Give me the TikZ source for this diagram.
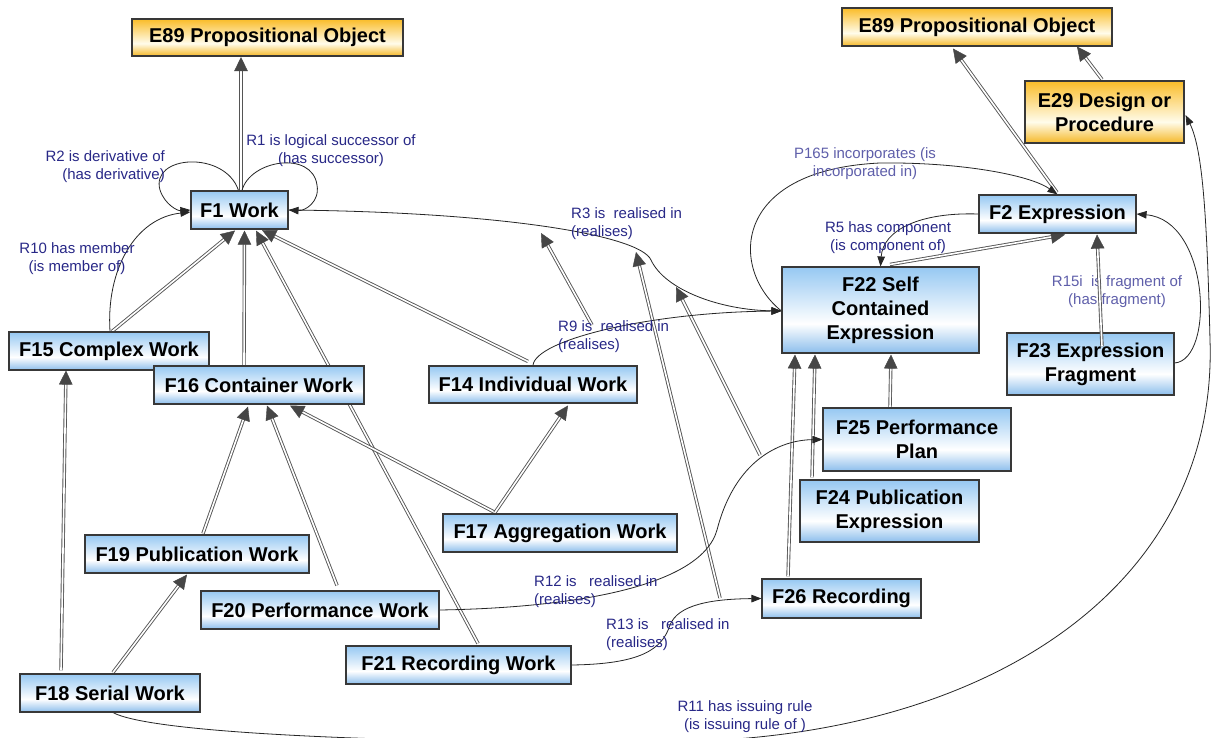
\documentclass[tikz,border=0pt]{standalone}
\usepackage{fontspec}
\setmainfont{Liberation Sans}
\usetikzlibrary{arrows.meta,calc,decorations.markings}
\definecolor{btop}{RGB}{150,200,242}
\definecolor{bbot}{RGB}{140,190,236}
\definecolor{ytop}{RGB}{250,188,40}
\definecolor{ybot}{RGB}{245,184,40}
\definecolor{ymid}{RGB}{255,252,235}
\definecolor{labc}{RGB}{40,40,135}
\definecolor{labc2}{RGB}{95,95,170}
\definecolor{isagray}{RGB}{85,85,85}
\definecolor{isatip}{RGB}{70,70,70}
\pgfdeclareverticalshading{bshade}{100bp}{color(0bp)=(bbot); color(25bp)=(bbot); color(42bp)=(white); color(75bp)=(btop); color(100bp)=(btop)}
\pgfdeclareverticalshading{yshade}{100bp}{color(0bp)=(ybot); color(25bp)=(ybot); color(42bp)=(ymid); color(75bp)=(ytop); color(100bp)=(ytop)}
\pgfdeclarelayer{bg}
\pgfsetlayers{bg,main}
\newcommand\boxfont{\bfseries\fontsize{20}{24}\selectfont}
\newcommand\labfont{\fontsize{15}{18}\selectfont}
\tikzset{
  box/.style={draw=black!78, line width=1.1pt, shading=bshade, font=\boxfont, align=center, inner sep=0pt, text=black},
  ybox/.style={box, shading=yshade},
  conn/.style={draw=black!85, line width=0.8pt, -{Triangle[length=10pt,width=7.5pt]}},
  isa/.style={postaction={draw=isagray, line width=0.9pt, double=white, double distance=1.6pt, shorten >=9pt},
              postaction={decorate, decoration={markings, mark=at position 1 with {\arrow{Triangle[length=14pt,width=13.5pt,color=isatip]}}}}},
  lab/.style={font=\labfont, text=labc, align=center, inner sep=0pt},
  labl/.style={lab, align=left, anchor=west}
}
\begin{document}
\begin{tikzpicture}[x=1pt,y=-1pt]
\useasboundingbox (0,0) rectangle (1213,737);
\clip (0,0) rectangle (1213,737);
\begin{pgfonlayer}{bg}
\fill[white] (0,0) rectangle (1213,737);
\end{pgfonlayer}

% nodes
\node[ybox, minimum width=271pt, minimum height=37pt] (E89L) at (267.5,37.5) {E89 Propositional Object};
\node[box, minimum width=97pt, minimum height=38pt] (F1) at (239.5,210) {F1 Work};
\node[box, minimum width=200pt, minimum height=38pt] (F15) at (109,351) {F15 Complex Work};
\node[box, minimum width=210pt, minimum height=38pt] (F16) at (259,385) {F16 Container Work};
\node[box, minimum width=208pt, minimum height=37pt] (F14) at (533,384.5) {F14 Individual Work};
\node[box, minimum width=224pt, minimum height=38pt] (F19) at (197,554) {F19 Publication Work};
\node[box, minimum width=234pt, minimum height=38pt] (F17) at (560,533) {F17 Aggregation Work};
\node[box, minimum width=238pt, minimum height=38pt] (F20) at (320,610) {F20 Performance Work};
\node[box, minimum width=180pt, minimum height=38pt] (F18) at (110,693) {F18 Serial Work};
\node[box, minimum width=225pt, minimum height=38pt] (F21) at (458.5,665) {F21 Recording Work};
\node[box, minimum width=159pt, minimum height=39pt] (F26) at (841.5,598.5) {F26 Recording};
\node[box, minimum width=179pt, minimum height=62pt] (F24) at (889.5,511) {F24 Publication\\Expression};
\node[box, minimum width=188pt, minimum height=63pt] (F25) at (917,439.5) {F25 Performance\\Plan};
\node[box, minimum width=197pt, minimum height=86pt] (F22) at (880.5,310) {F22 Self\\Contained\\Expression};
\node[box, minimum width=167pt, minimum height=62pt] (F23) at (1090.5,364) {F23 Expression\\Fragment};
\node[box, minimum width=157pt, minimum height=38pt] (F2) at (1057.5,214) {F2 Expression};
\node[ybox, minimum width=159pt, minimum height=62pt] (E29) at (1104.5,112) {E29 Design or\\Procedure};
\node[ybox, minimum width=270pt, minimum height=38pt] (E89R) at (977,27) {E89 Propositional Object};

% labels
\node[lab, anchor=east, align=right] (lR2) at (165,167) {R2 is derivative of\\(has derivative)};
\node[lab] (lR1) at (331,151) {R1 is logical successor of\\(has successor)};
\node[lab] (lR10) at (77,259) {R10 has member\\(is member of)};
\node[labl] (lR3) at (571,224) {R3 is\ \ realised in\\(realises)};
\node[labl] (lR9) at (558,337) {R9 is\ \ realised in\\(realises)};
\node[labl] (lR12) at (534,592) {R12 is\ \ \ realised in\\(realises)};
\node[labl] (lR13) at (606,635) {R13 is\ \ \ realised in\\(realises)};
\node[lab] (lR11) at (745,717) {R11 has issuing rule\\(is issuing rule of )};
\node[lab, text=labc2] (lP165) at (865,164) {P165 incorporates (is\\incorporated in)};
\node[lab] (lR5) at (888,238) {R5 has component\\(is component of)};
\node[lab, text=labc2] (lR15) at (1117,292) {R15i\ \ is fragment of\\(has fragment)};

% free ends of the sub-property arrows
\coordinate (r9s) at (592,325);  \coordinate (r3a) at (541,233);
\coordinate (r13s) at (720,598); \coordinate (r3b) at (636,252);
\coordinate (r12s) at (760,455); \coordinate (r3c) at (676,287);

\begin{pgfonlayer}{bg}
% is-a arrows
\path[isa] ($(F1.north)+(1.5,0)$) -- ($(E89L.south)+(-26.5,0.5)$);
\path[isa] ($(F15.north)+(3,0)$) -- ($(F1.south)+(-4.5,1)$);
\path[isa] ($(F16.north)+(-15,0)$) -- ($(F1.south)+(5,1)$);
\path[isa] ($(F21.north)+(19.5,-2)$) -- ($(F1.south)+(16.5,1)$);
\path[isa] ($(F14.north)+(-5,-4)$) -- ($(F1.south)+(22.5,0.5)$);
\path[isa] ($(F17.north)+(-65,-1)$) -- ($(F16.south)+(31,1)$);
\path[isa] ($(F17.north)+(-65,-1)$) -- ($(F14.south)+(35,2)$);
\path[isa] ($(F19.north)+(6,-1)$) -- ($(F16.south)+(-11,2)$);
\path[isa] ($(F20.north)+(17,-5)$) -- ($(F16.south)+(8,1)$);
\path[isa] ($(F18.north)+(-49,-3)$) -- ($(F15.south)+(-43,0)$);
\path[isa] ($(F18.north)+(3,-1)$) -- ($(F19.south)+(-10,1)$);
\path[isa] ($(F26.north)+(-53.5,-2)$) -- ($(F22.south)+(-85.5,1)$);
\path[isa] ($(F24.north)+(-77.5,-2)$) -- ($(F22.south)+(-65.5,1)$);
\path[isa] ($(F25.north)+(-27,0)$) -- ($(F22.south)+(10.5,1)$);
\path[isa] ($(F22.north)+(9.5,-2)$) -- ($(F2.south)+(7.5,1)$);
\path[isa] ($(F2.north)+(-0.5,-2)$) -- ($(E89R.south)+(-24,2)$);
\path[isa] ($(E29.north)+(-2.5,-1)$) -- ($(E89R.south)+(100,0)$);
% sub-property arrows
\path[isa] (r9s) -- (r3a);
\path[isa] (r13s) -- (r3b);
\path[isa] (r12s) -- (r3c);
% properties
\draw[conn] ($(F1.north)+(-1,0)$) .. controls (225,150) and (150,155) .. (160,190) .. controls (165,205) and (178,211) .. (F1.west);
\draw[conn] ($(F1.north)+(2.5,0)$) .. controls (250,160) and (312,150) .. (317,185) .. controls (320,202) and (305,211) .. (F1.east);
\draw[conn] ($(F15.north)+(1,0)$) .. controls (106,270) and (135,218) .. ($(F1.west)+(0,2)$);
\draw[conn] (F1.east) .. controls (500,212) and (640,235) .. (651,260) .. controls (665,290) and (720,310) .. ($(F22.west)+(0,1)$);
\draw[conn] (F14.north) .. controls (535,340) and (650,312) .. ($(F22.west)+(0,1)$);
\draw[conn] ($(F22.west)+(0,1)$) .. controls (730,270) and (730,170) .. (880,163) .. controls (960,162) and (1030,175) .. (F2.north);
\draw[conn] (F2.west) .. controls (920,212) and (883,230) .. (F22.north);
\draw[conn] ($(F23.east)+(0,-1)$) .. controls (1215,360) and (1210,220) .. (F2.east);
\draw[conn] ($(F18.south)+(3,0)$) .. controls (160,738) and (500,745) .. (700,741) .. controls (1000,730) and (1218,580) .. (1210,340) .. controls (1207,220) and (1203,150) .. ($(E29.east)+(1,3)$);
\draw[conn] (F20.east) .. controls (560,608) and (700,590) .. (717,530) .. controls (735,460) and (780,440) .. (F25.west);
\draw[conn] (F21.east) .. controls (640,664) and (662,650) .. (670,625) .. controls (678,605) and (710,599) .. (F26.west);
\end{pgfonlayer}
% drawn over the fragment box, as in the picture
\path[isa] ($(F23.north)+(11.5,14)$) -- ($(F2.south)+(39.5,1)$);
\end{tikzpicture}
\end{document}
